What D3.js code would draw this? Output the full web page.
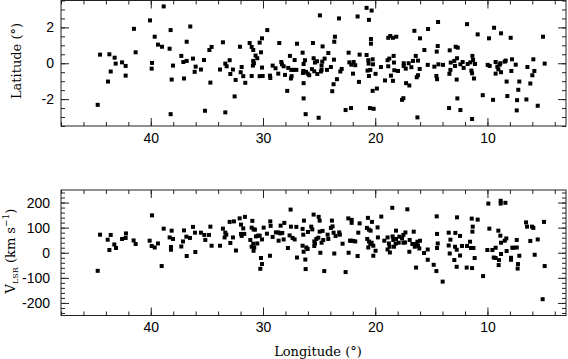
<!DOCTYPE html>
<html>
<head>
<meta charset="utf-8">
<script src="https://cdn.jsdelivr.net/npm/d3@7"></script>
<style>
  body { margin: 0; background: #fff; }
  .tick text { font-family: "Liberation Sans", Helvetica, Arial, sans-serif; font-size: 14px; fill: #000; }
  .tick line { stroke: #222; }
  .title { font-family: "DejaVu Serif", "Liberation Serif", serif; font-size: 13px; fill: #000; }
</style>
</head>
<body>
<script>
// longitude range and tick labels
var lonDomain = [48, 3];
var lonTicks = [40, 30, 20, 10];
var latTicks = [-2, 0, 2];
var velTicks = [-200, -100, 0, 100, 200];

// [longitude, latitude] in degrees
var latData = [
  [38.85,3.17],[40.07,2.39],[41.5,1.92],[38.23,1.85],[36.48,2.05],[39.65,1.48],[39.36,1.04],[39.0,0.92],
  [38.32,0.81],[36.8,1.2],[33.57,1.17],[34.58,0.91],[34.78,0.74],[41.35,0.61],[44.52,0.48],[43.69,0.5],
  [43.22,0.31],[43.13,-0.02],[42.56,0.05],[42.24,-0.15],[43.57,-0.46],[43.81,-1.02],[42.24,-0.69],[44.73,-2.32],
  [39.89,0.02],[39.92,-0.3],[38.02,-0.13],[38.14,-0.91],[38.23,-2.84],[37.28,0.41],[37.1,0.07],[36.8,0.13],
  [36.24,0.26],[36.0,-0.19],[36.09,-0.48],[35.53,-0.35],[35.26,0.18],[37.04,-0.85],[34.69,-1.08],[35.17,-2.65],
  [33.83,-0.35],[33.36,-0.02],[33.24,-0.17],[32.97,0.17],[32.91,-0.6],[33.36,-2.74],
  [32.05,0.92],[32.53,-1.85],[32.68,-0.35],[32.44,-0.93],[31.9,-0.21],[31.99,-0.5],[31.76,-0.72],[31.58,-1.09],
  [31.19,1.13],[31.01,0.91],[30.87,0.74],[30.66,0.43],[30.51,0.28],[30.87,0.13],[30.81,0.0],[30.9,-0.13],
  [31.01,-0.71],[30.3,1.15],[30.09,1.39],[30.18,0.61],[29.62,1.85],[30.3,-0.72],[30.03,-0.71],[30.09,-0.24],
  [29.38,-0.69],[29.35,-0.82],[29.14,-0.13],[28.88,-0.28],[28.55,1.13],[28.37,0.07],[28.31,-0.06],[28.64,-0.58],
  [28.16,-0.17],[27.84,-1.54],[27.75,-0.26],[28.04,-0.65],[27.6,0.41],[27.48,-0.37],[27.45,-0.72],[27.51,-0.85],
  [27.18,0.18],[27.27,-0.37],[27.03,-0.37],[26.97,1.09],[26.47,0.59],[26.38,-0.04],[26.26,0.17],[26.41,-0.43],
  [26.44,-0.54],[26.17,-0.48],[26.02,-0.58],[25.88,-0.67],[26.38,-1.11],[26.38,-1.96],[26.2,-2.84],[25.55,1.13],
  [25.49,0.28],[25.37,0.04],[25.19,0.11],[25.43,-0.45],[25.16,-0.6],[25.64,-0.33],[24.93,2.67],[25.04,-3.04],
  [24.69,0.94],[24.72,0.09],[24.78,-0.13],[24.51,0.26],[24.78,-0.37],[24.84,-0.46],[24.18,0.57],[24.3,-0.37],
  [23.95,-0.21],[23.83,-1.56],[23.71,-1.17],[23.68,0.2],[23.65,1.2],[23.59,1.48],[23.41,-0.89],[23.23,2.5],
  [23.11,-0.46],[22.99,-0.32],[22.64,-2.61],[22.37,0.59],[22.31,0.05],[22.13,-0.08],[22.16,-2.5],[21.98,-0.58],
  [21.92,0.07],[21.78,-0.11],[21.57,2.61],[21.45,-1.04],[21.39,0.48],[20.77,0.46],[20.77,3.09],[20.56,2.42],
  [20.32,2.94],[20.38,1.35],[20.38,1.09],[20.62,0.17],[20.59,-0.02],[20.23,0.22],[20.2,-0.06],[20.68,-0.41],
  [20.56,-0.71],[20.44,-0.37],[19.97,-0.59],[20.23,-1.54],[19.85,-1.41],[20.47,-2.5],[20.14,-2.54],[19.49,-0.21],
  [19.13,-0.96],[18.9,0.17],[18.75,0.26],[18.84,1.42],[18.66,1.52],[18.6,-0.69],[18.84,-0.17],[18.42,1.42],
  [18.36,0.41],[18.33,0.04],[18.3,-0.39],[18.42,-0.98],
  [18.12,1.48],[17.97,-0.43],[17.61,-2.04],[17.49,-1.95],[17.46,0.0],[17.46,-0.15],[17.28,-0.3],[17.25,-1.11],
  [16.96,-1.24],[17.02,0.0],[16.78,-0.22],[16.63,0.13],[16.39,0.41],[16.19,0.15],[16.3,-0.78],[16.19,-0.67],
  [16.04,-0.32],[16.51,1.81],[16.01,1.39],[16.24,-3.02],[15.62,0.74],[15.29,1.91],[15.32,-0.09],[14.73,-0.19],
  [14.4,2.3],[14.43,0.96],[14.52,0.65],[14.37,-0.06],[14.55,-0.71],[14.49,-0.89],[13.96,-0.09],[13.42,-2.5],
  [13.39,-0.59],[13.3,-0.37],[13.36,0.72],[13.27,0.04],[12.95,0.13],[12.89,-0.15],[12.83,0.92],[12.65,0.87],
  [12.71,0.28],[12.74,-0.91],[12.68,-1.96],[12.41,-2.61],[12.41,-0.06],[12.21,0.07],[12.12,-0.26],[11.82,2.18],
  [11.76,-0.04],[11.52,0.05],[11.43,-0.41],[11.37,-0.56],[11.34,0.41],[11.28,0.18],[11.2,-0.85],[11.11,-0.04],
  [11.37,-3.11],[10.87,1.61],[10.42,-1.78],[9.98,-0.09],[9.86,1.39],[9.8,-0.15],[9.5,-2.04],[9.41,1.98],
  [9.27,0.07],[9.12,-0.19],[9.03,-0.34],[8.91,-0.08],[8.85,0.0],[8.79,-0.5],[9.27,-0.58],[8.79,1.67],
  [8.46,0.09],[8.37,0.15],[8.23,-1.83],[8.29,-1.02],[7.93,1.42],[7.81,0.22],[7.87,-0.43],[7.48,-0.08],
  [7.16,-1.02],[7.25,-1.48],[7.36,-2.06],[7.39,-2.63],[6.53,-2.02],[6.44,-0.21],[6.18,-1.13],[6.0,-0.67],
  [5.82,-0.43],[5.91,0.22],[5.52,-2.37],[5.05,1.48],[4.9,-0.02]
];

// [longitude, V_LSR] in degrees, km/s
var velData = [
  [44.73,-72],[44.52,72],[43.84,52],[43.57,71],[43.69,11],[43.25,33],[43.1,19],[42.56,55],
  [42.24,59],[42.21,77],[41.53,49],[41.35,35],[39.89,149],[40.1,48],[39.92,27],[39.65,21],
  [39.36,37],[39.03,-53],[38.85,96],[38.32,61],[38.14,88],[38.02,55],[38.2,23],[38.2,12],
  [37.28,25],[37.13,45],[37.04,89],[36.83,64],[36.8,-13],[36.51,59],[36.24,103],[36.06,80],
  [36.03,3],[35.53,80],[35.23,71],[35.14,51],[34.81,71],[34.69,104],[34.58,28],[33.83,28],
  [33.57,96],[33.36,80],[33.27,72],[33.42,61],[32.97,123],[32.91,39],
  [32.68,61],[32.41,9],[32.59,125],[32.08,137],[31.61,143],[31.96,112],[31.76,97],[31.96,75],
  [31.9,67],[31.67,75],[31.13,51],[31.01,24],[30.87,36],[30.84,8],[30.78,21],[31.01,100],
  [30.95,127],[30.84,93],[30.72,92],[30.63,65],[30.51,37],[30.45,68],[30.3,68],[30.18,-21],
  [30.09,-45],[30.24,-64],[30.09,53],[29.94,100],[29.65,76],[29.38,-12],[29.35,125],[29.32,107],
  [29.14,63],[28.85,81],[28.64,81],[28.61,48],[28.46,77],[28.28,79],[28.16,53],[28.1,119],
  [28.43,108],[27.78,19],[27.63,69],[27.54,172],[27.51,104],[27.36,59],[27.18,53],[27.03,103],
  [26.97,-19],[26.47,95],[26.35,128],[26.41,72],[26.47,28],[26.38,4],[26.23,-27],[26.2,-65],
  [26.14,21],[26.02,15],[25.99,83],[25.7,104],[25.61,93],[25.49,152],[25.43,45],[25.43,27],
  [25.37,37],[25.25,55],[25.07,60],[25.04,143],[24.95,128],[24.95,84],[24.89,0],[24.78,40],
  [24.69,87],[24.63,51],[24.54,-73],[24.24,72],[24.18,55],[23.95,99],[23.86,128],[23.8,105],
  [23.71,80],[23.65,-3],[23.53,67],[23.21,81],[23.15,72],[22.91,36],[22.64,-77],[22.4,137],
  [22.25,48],[22.1,119],[22.1,131],[22.13,48],[21.95,47],[22.37,0],[21.57,-13],[21.51,80],
  [21.39,117],[21.78,45],[20.74,99],[20.71,55],[20.65,139],[20.56,92],[20.41,88],[20.29,123],
  [20.56,45],[20.44,35],[20.62,21],[20.32,40],[20.17,28],[20.17,-12],[19.97,8],[19.79,101],
  [19.76,61],[19.46,144],[19.19,48],[18.9,61],[18.78,37],[18.72,24],[18.9,13],[18.69,1],
  [18.48,179],[18.39,51],[18.45,65],[18.33,24],
  [18.15,88],[18.15,55],[18.18,36],[17.85,64],[17.91,40],[17.61,57],[17.49,71],[17.49,40],
  [17.31,81],[17.34,41],[17.14,173],[16.93,51],[16.96,4],[16.69,35],[16.57,84],[16.48,24],
  [16.36,-59],[16.36,35],[16.24,44],[16.19,28],[16.01,48],[16.07,17],[15.65,-1],[15.32,13],
  [15.32,-28],[14.79,-48],[14.52,145],[14.49,75],[14.43,37],[14.49,19],[14.55,-73],[13.99,-115],
  [13.45,80],[13.3,52],[13.36,-3],[13.45,29],[12.95,-29],[12.89,24],[12.86,79],[12.74,12],
  [12.74,-56],[12.71,141],[12.44,67],[12.44,-11],[12.27,27],[11.85,-59],[11.82,27],[11.55,44],
  [11.46,19],[11.37,-61],[11.4,136],[11.31,104],[11.34,84],[11.25,19],[11.14,-21],[10.87,132],
  [10.39,-93],[10.01,11],[9.92,196],[9.83,96],[9.56,11],[9.44,-19],[9.27,20],[9.27,-21],
  [9.03,88],[8.97,-29],[9.0,-49],[8.82,207],[8.82,196],[8.79,40],[8.79,-5],[8.85,68],
  [8.46,48],[8.29,7],[8.4,199],[8.32,57],[7.9,-20],[7.9,-28],[7.78,20],[7.69,20],
  [7.39,51],[7.39,21],[7.31,-63],[7.16,-12],[7.28,-45],[6.56,121],[6.47,104],[6.18,47],
  [6.03,104],[5.91,99],[5.79,-8],[5.52,53],[4.96,123],[4.9,-53],[5.08,-185]
];

var w = 568;
var h = 359;
var left = 61;
var right = 566;

var svg = d3
  .select('body')
  .append('svg')
  .attr('width', w)
  .attr('height', h);

var xScale = d3.scaleLinear().domain(lonDomain).range([left, right]);
var xMinor = d3.range(48, 3, -2);

function panel(opts) {
  var g = svg.append('g');
  var yScale = opts.yScale;
  var top = yScale.range()[1];
  var bottom = yScale.range()[0];

  // minor and major ticks on all four sides, pointing inward
  function ticks(axisFn, scale, values, size, pos, labels) {
    var ax = axisFn(scale)
      .tickValues(values)
      .tickSizeInner(-size)
      .tickSizeOuter(0)
      .tickPadding(opts.pad)
      .tickFormat(labels ? d3.format('d') : '');
    var a = g.append('g').attr('transform', pos).call(ax);
    a.select('.domain').remove();
    return a;
  }

  ticks(d3.axisBottom, xScale, xMinor, 4, `translate(0,${bottom})`, false);
  ticks(d3.axisTop, xScale, xMinor, 4, `translate(0,${top})`, false);
  ticks(d3.axisBottom, xScale, lonTicks, 8, `translate(0,${bottom})`, true)
    .selectAll('text').attr('y', opts.xPad);
  ticks(d3.axisTop, xScale, lonTicks, 8, `translate(0,${top})`, false);

  ticks(d3.axisLeft, yScale, opts.yMinor, 4, `translate(${left},0)`, false);
  ticks(d3.axisRight, yScale, opts.yMinor, 4, `translate(${right},0)`, false);
  ticks(d3.axisLeft, yScale, opts.yTicks, 8, `translate(${left},0)`, true)
    .selectAll('text').attr('x', -opts.pad).text(d => d3.format('d')(d).replace('−', '-'));
  ticks(d3.axisRight, yScale, opts.yTicks, 8, `translate(${right},0)`, false);

  g.append('rect')
    .attr('x', left)
    .attr('y', top)
    .attr('width', right - left)
    .attr('height', bottom - top)
    .attr('fill', 'none')
    .attr('stroke', '#222');

  g.append('g')
    .selectAll('rect')
    .data(opts.data)
    .enter()
    .append('rect')
    .attr('x', d => xScale(d[0]) - 2)
    .attr('y', d => yScale(d[1]) - 2)
    .attr('width', 4)
    .attr('height', 4)
    .attr('fill', 'black');
}

var latScale = d3.scaleLinear().domain([-3.5, 3.5]).range([126, 0.5]);
var velScale = d3.scaleLinear().domain([-250, 250]).range([315.5, 190]);

panel({
  yScale: latScale,
  yTicks: latTicks,
  yMinor: d3.range(-3.5, 3.51, 0.5),
  data: latData,
  pad: 7,
  xPad: 7
});

panel({
  yScale: velScale,
  yTicks: velTicks,
  yMinor: d3.range(-240, 241, 20),
  data: velData,
  pad: 11,
  xPad: 7
});

// axis titles
svg
  .append('text')
  .attr('class', 'title')
  .attr('transform', 'translate(21,61) rotate(-90)')
  .attr('text-anchor', 'middle')
  .text('Latitude (°)');

var vt = svg
  .append('text')
  .attr('class', 'title')
  .attr('transform', 'translate(15,251) rotate(-90)')
  .attr('text-anchor', 'middle');
vt.append('tspan').text('V');
vt.append('tspan').attr('font-size', 8).attr('dy', 3).text('LSR');
vt.append('tspan').attr('dy', -3).text(' (km s');
vt.append('tspan').attr('font-size', 9).attr('dy', -6).text('−1');
vt.append('tspan').attr('dy', 6).text(')');

svg
  .append('text')
  .attr('class', 'title')
  .attr('x', 318)
  .attr('y', 356)
  .attr('text-anchor', 'middle')
  .text('Longitude (°)');
</script>
</body>
</html>
